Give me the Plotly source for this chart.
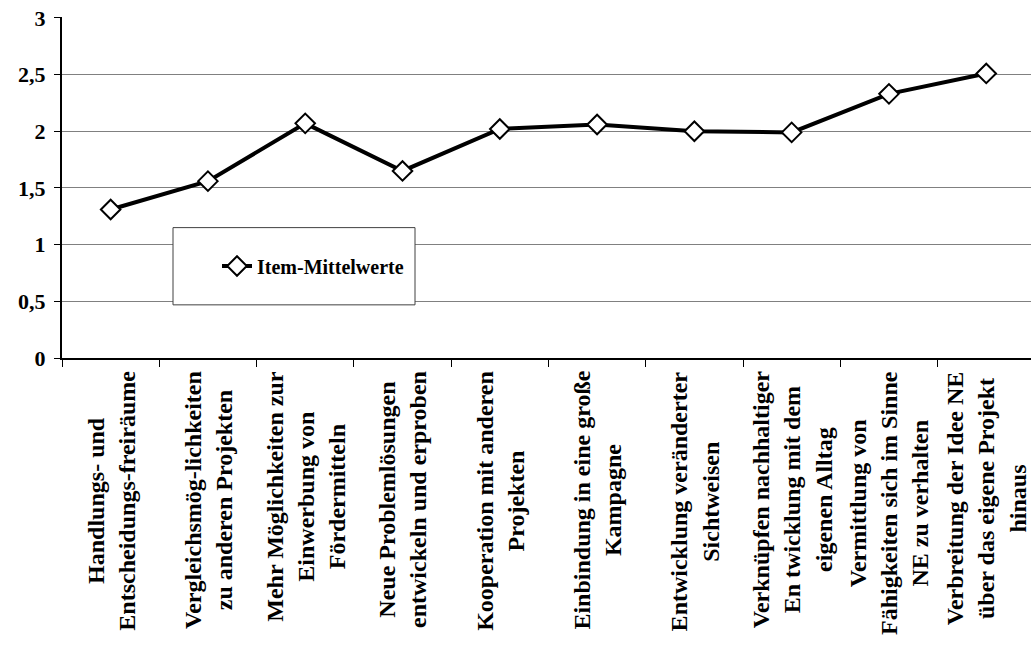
import plotly.graph_objects as go

categories = [
    "Handlungs- und<br>Entscheidungs-freiräume",
    "Vergleichsmög-lichkeiten<br>zu anderen Projekten",
    "Mehr Möglichkeiten zur<br>Einwerbung von<br>Fördermitteln",
    "Neue Problemlösungen<br>entwickeln und erproben",
    "Kooperation mit anderen<br>Projekten",
    "Einbindung in eine große<br>Kampagne",
    "Entwicklung veränderter<br>Sichtweisen",
    "Verknüpfen nachhaltiger<br>En twicklung mit dem<br>eigenen Alltag",
    "Vermittlung von<br>Fähigkeiten sich im Sinne<br>NE zu verhalten",
    "Verbreitung der Idee NE<br>über das eigene Projekt<br>hinaus",
]
values = [1.31, 1.56, 2.07, 1.65, 2.02, 2.06, 2.00, 1.99, 2.33, 2.51]
series_name = "Item-Mittelwerte"
y_ticks = [0, 0.5, 1, 1.5, 2, 2.5, 3]

FONT = "Liberation Serif"
idx = list(range(len(categories)))

fig = go.Figure()
fig.add_trace(go.Scatter(
    x=idx, y=values, mode="lines+markers", name=series_name,
    line=dict(color="black", width=4),
    marker=dict(symbol="diamond", size=15, color="white",
                line=dict(color="black", width=2)),
))

# category labels as rotated, centered annotations
for i, lab in enumerate(categories):
    fig.add_annotation(
        x=i, xref="x", y=0, yref="paper", yshift=-11,
        text=lab, textangle=-90, align="center",
        xanchor="center", yanchor="top", showarrow=False,
        font=dict(family=FONT, size=24, color="black", weight="bold"),
    )

# legend frame
fig.add_shape(type="rect", xref="paper", yref="paper",
              x0=(173 - 62) / 969, x1=(415 - 62) / 969,
              y0=(358 - 305) / 340, y1=(358 - 228) / 340,
              line=dict(color="#404040", width=1), fillcolor="white", layer="above")

fig.update_layout(
    width=1031, height=668,
    margin=dict(l=62, r=0, t=17, b=310),
    paper_bgcolor="white", plot_bgcolor="white",
    separators=",.",
    font=dict(family=FONT, size=18, color="black"),
    showlegend=True,
    legend=dict(x=(217 - 62) / 969, y=(358 - 266) / 341, xanchor="left", yanchor="middle",
                bgcolor="rgba(0,0,0,0)", borderwidth=0,
                font=dict(family=FONT, size=20, color="black", weight="bold")),
    xaxis=dict(
        range=[-0.5, 9.46], showticklabels=False,
        tickmode="array", tickvals=[i - 0.5 for i in idx] + [9.5],
        ticks="outside", ticklen=7, tickcolor="black", tickwidth=1,
        showgrid=False, zeroline=False,
        showline=True, linecolor="black", linewidth=2,
    ),
    yaxis=dict(
        range=[0, 3.008], tickvals=y_ticks,
        ticks="outside", ticklen=6, tickcolor="black", tickwidth=1,
        ticklabelstandoff=4,
        showgrid=True, gridcolor="#808080", gridwidth=1,
        zeroline=False, showline=True, linecolor="black", linewidth=2,
        tickfont=dict(family=FONT, size=22, color="black", weight="bold"),
    ),
)

fig.write_html("out.html", config={"displayModeBar": False},
               post_script="document.body.style.margin='0';document.body.style.overflow='hidden';")
